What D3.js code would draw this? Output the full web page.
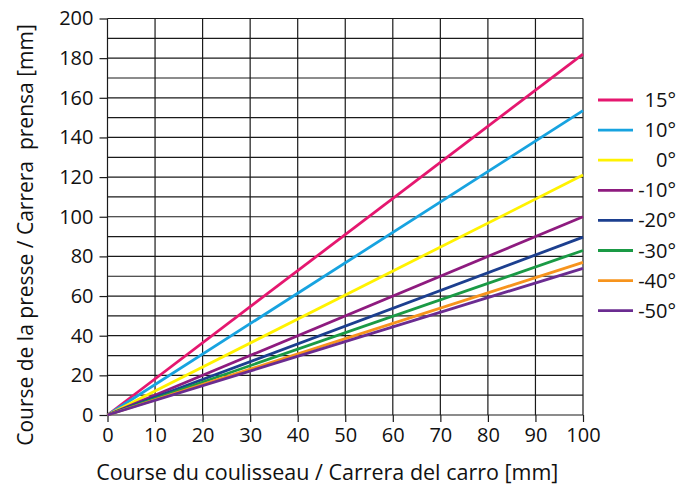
<!DOCTYPE html>
<html>
<head>
<meta charset="utf-8">
<script src="https://cdn.jsdelivr.net/npm/d3@7"></script>
<style>
  body { margin: 0; background: #fff; }
  svg { font-family: "Open Sans", sans-serif; }
</style>
</head>
<body>
<svg id="chart"></svg>
<script>
// stroke of the slide (x) and of the press (y), in mm
var strokeX = [0, 100]
var seriesNames = ["15°", "10°", "0°", "-10°", "-20°", "-30°", "-40°", "-50°"]
var s15 = [0, 182]
var s10 = [0, 153.5]
var s0 = [0, 121]
var sm10 = [0, 100]
var sm20 = [0, 89.7]
var sm30 = [0, 83]
var sm40 = [0, 77]
var sm50 = [0, 74]
var xTicks = [0, 10, 20, 30, 40, 50, 60, 70, 80, 90, 100]
var yTicks = [0, 20, 40, 60, 80, 100, 120, 140, 160, 180, 200]
var yGrid = d3.range(0, 201, 10)

var colors = ["#e5176f", "#17a3e0", "#fff200", "#8e1b7f", "#1c3f8f", "#1a9a45", "#f7941d", "#6b2c91"]
var allSeries = [s15, s10, s0, sm10, sm20, sm30, sm40, sm50]

var dimensions = {
  width: 678,
  height: 488,
  margin: { top: 18.5, bottom: 73, right: 95, left: 107.5 }
}
dimensions.boundedWidth = dimensions.width - dimensions.margin.left - dimensions.margin.right
dimensions.boundedHeight = dimensions.height - dimensions.margin.top - dimensions.margin.bottom

var svg = d3.select("#chart")
  .attr("width", dimensions.width)
  .attr("height", dimensions.height)

var bounds = svg.append("g")
  .attr("transform", "translate(" + dimensions.margin.left + "," + dimensions.margin.top + ")")

var xScale = d3.scaleLinear().domain([0, 100]).range([0, dimensions.boundedWidth])
var yScale = d3.scaleLinear().domain([0, 200]).range([dimensions.boundedHeight, 0])

// grid
bounds.append("g").selectAll("line")
  .data(xTicks)
  .enter().append("line")
  .attr("x1", d => xScale(d)).attr("x2", d => xScale(d))
  .attr("y1", 0).attr("y2", dimensions.boundedHeight)
  .attr("stroke", "#1a1a1a").attr("stroke-width", 1.2)

bounds.append("g").selectAll("line")
  .data(yGrid)
  .enter().append("line")
  .attr("x1", 0).attr("x2", dimensions.boundedWidth)
  .attr("y1", d => yScale(d)).attr("y2", d => yScale(d))
  .attr("stroke", "#1a1a1a").attr("stroke-width", 1.2)

// axes
var xAxis = d3.axisBottom(xScale).tickValues(xTicks).tickSize(7).tickPadding(6)
var yAxis = d3.axisLeft(yScale).tickValues(yTicks).tickSize(8).tickPadding(6)

var gx = bounds.append("g")
  .attr("transform", "translate(0," + dimensions.boundedHeight + ")")
  .call(xAxis)
var gy = bounds.append("g").call(yAxis)

;[gx, gy].forEach(function(g) {
  g.select(".domain").remove()
  g.selectAll(".tick line").attr("stroke", "#1a1a1a").attr("stroke-width", 1.2)
  g.selectAll("text")
    .style("font-size", "20px")
    .style("font-family", "'Open Sans', sans-serif")
    .attr("fill", "#111")
})

// series lines
var line = d3.line()
  .x((d, i) => xScale(strokeX[i]))
  .y(d => yScale(d))

bounds.append("g").selectAll("path")
  .data(allSeries)
  .enter().append("path")
  .attr("fill", "none")
  .attr("stroke", (d, i) => colors[i])
  .attr("stroke-width", 2.8)
  .attr("d", line)

// legend
var legend = svg.append("g").selectAll("g")
  .data(seriesNames)
  .enter().append("g")
  .attr("transform", (d, i) => "translate(0," + (100 + i * 30.1) + ")")

legend.append("line")
  .attr("x1", 598).attr("x2", 633)
  .attr("stroke", (d, i) => colors[i])
  .attr("stroke-width", 2.8)

legend.append("text")
  .attr("x", 676)
  .attr("dy", "0.35em")
  .attr("text-anchor", "end")
  .style("font-size", "20px")
  .attr("fill", "#111")
  .text(d => d)

// axis titles
svg.append("text")
  .attr("x", dimensions.margin.left + dimensions.boundedWidth / 2 - 18)
  .attr("y", 480)
  .attr("text-anchor", "middle")
  .style("font-size", "21.5px")
  .attr("fill", "#111")
  .text("Course du coulisseau / Carrera del carro [mm]")

svg.append("text")
  .attr("transform", "translate(33," + 235 + ") rotate(-90)")
  .attr("text-anchor", "middle")
  .style("font-size", "21px")
  .style("white-space", "pre")
  .attr("fill", "#111")
  .text("Course de la presse / Carrera  prensa [mm]")
</script>
</body>
</html>
